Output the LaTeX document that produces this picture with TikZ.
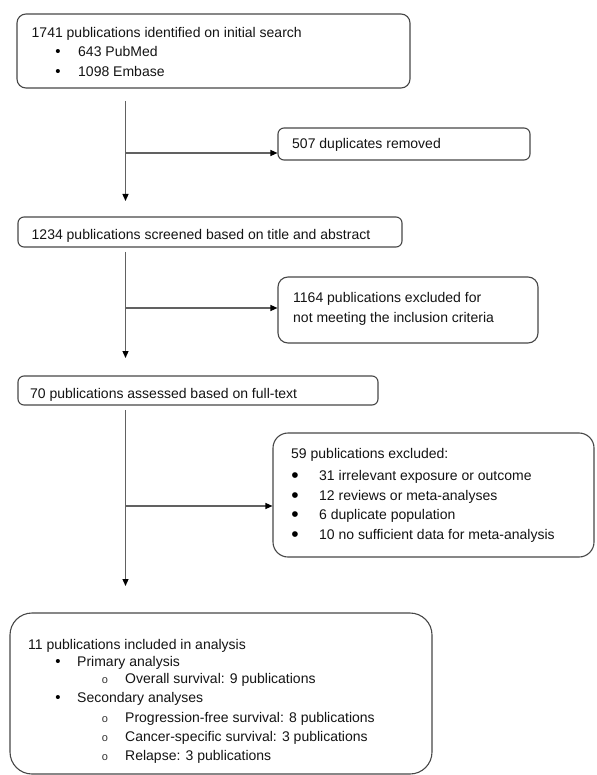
\documentclass[tikz,border=0pt]{standalone}
\usepackage{fontspec}
\setmainfont{Liberation Sans}
\usetikzlibrary{arrows.meta}
\begin{document}
\begin{tikzpicture}[x=1pt,y=-1pt,
  box/.style={draw=black!72, line width=1.1pt, inner sep=0pt, rounded corners=#1},
  box/.default=6pt,
  txt/.style={anchor=base west, inner sep=0pt, text=black!92, font=\fontsize{14}{17}\selectfont},
  bul/.style={anchor=base, inner sep=0pt, text=black, font=\fontsize{15}{17}\selectfont},
  bigbul/.style={anchor=base, inner sep=0pt, text=black, font=\fontsize{21}{21}\selectfont},
  subbul/.style={anchor=base, inner sep=0pt, text=black!80, font=\fontsize{11}{11}\selectfont},
  flow/.style={draw=black!62, line width=1.2pt},
  arr/.style={flow, -{Triangle[width=6pt,length=7pt,fill=black,color=black]}}]
\useasboundingbox (0,0) rectangle (596,775);
\fill[white] (0,0) rectangle (596,775);

% boxes
\node[box=9pt, minimum width=393pt, minimum height=74pt] (box1) at (213.5,51) {};
\node[box=6pt, minimum width=252pt, minimum height=32pt] (box2) at (404,144) {};
\node[box=6pt, minimum width=384pt, minimum height=30pt] (box3) at (210,232) {};
\node[box=10pt, minimum width=260pt, minimum height=66pt] (box4) at (408,310) {};
\node[box=6pt, minimum width=360pt, minimum height=29pt] (box5) at (198,390.5) {};
\node[box=15pt, minimum width=321pt, minimum height=124pt] (box6) at (433.5,495) {};
\node[box=22pt, minimum width=422pt, minimum height=161pt] (box7) at (221,693.5) {};

% box 1 text
\node[txt] (t1) at (31.5,38) {1741 publications identified on initial search};
\node[bul] (t1b1) at (58,57) {\textbullet};
\node[txt] (t1i1) at (78,57) {643 PubMed};
\node[bul] (t1b2) at (58,77) {\textbullet};
\node[txt] (t1i2) at (78,77) {1098 Embase};

% box 2
\node[txt] (t2) at (292,149) {507 duplicates removed};

% box 3
\node[txt] (t3) at (31.5,240) {1234 publications screened based on title and abstract};

% box 4
\node[txt] (t4a) at (293,302) {1164 publications excluded for};
\node[txt] (t4b) at (293,322) {not meeting the inclusion criteria};

% box 5
\node[txt] (t5) at (30,398) {70 publications assessed based on full-text};

% box 6
\node[txt] (t6) at (291,458) {59 publications excluded:};
\node[bigbul] (t6b1) at (295,482) {\textbullet};
\node[txt] (t6i1) at (319,480) {31 irrelevant exposure or outcome};
\node[bigbul] (t6b2) at (295,502) {\textbullet};
\node[txt] (t6i2) at (319,500) {12 reviews or meta-analyses};
\node[bigbul] (t6b3) at (295,521) {\textbullet};
\node[txt] (t6i3) at (319,519) {6 duplicate population};
\node[bigbul] (t6b4) at (295,541) {\textbullet};
\node[txt] (t6i4) at (319,539) {10 no sufficient data for meta-analysis};

% box 7
\node[txt] (t7) at (28,649) {11 publications included in analysis};
\node[bul] (t7b1) at (58,666) {\textbullet};
\node[txt] (t7i1) at (77,666) {Primary analysis};
\node[subbul] (t7s1) at (105,683) {o};
\node[txt] (t7i2) at (125,683) {Overall survival: 9 publications};
\node[bul] (t7b2) at (58,702) {\textbullet};
\node[txt] (t7i3) at (77,702) {Secondary analyses};
\node[subbul] (t7s2) at (105,722) {o};
\node[txt] (t7i4) at (125,722) {Progression-free survival: 8 publications};
\node[subbul] (t7s3) at (105,741) {o};
\node[txt] (t7i5) at (125,741) {Cancer-specific survival: 3 publications};
\node[subbul] (t7s4) at (105,760) {o};
\node[txt] (t7i6) at (125,760) {Relapse: 3 publications};

% connectors
\coordinate (s1) at (125.5,101);
\coordinate (e1) at (125.5,201);
\coordinate (j1) at (125.5,153);
\coordinate (s2) at (125.5,252);
\coordinate (e2) at (125.5,358);
\coordinate (j2) at (125.5,308);
\coordinate (s3) at (125.5,410);
\coordinate (e3) at (125.5,586);
\coordinate (j3) at (125.5,506);

\draw[arr] (s1) -- (e1);
\draw[arr] (j1) -- (j1 -| box2.west);
\draw[arr] (s2) -- (e2);
\draw[arr] (j2) -- (j2 -| box4.west);
\draw[arr] (s3) -- (e3);
\draw[arr] (j3) -- (j3 -| box6.west);
\end{tikzpicture}
\end{document}
